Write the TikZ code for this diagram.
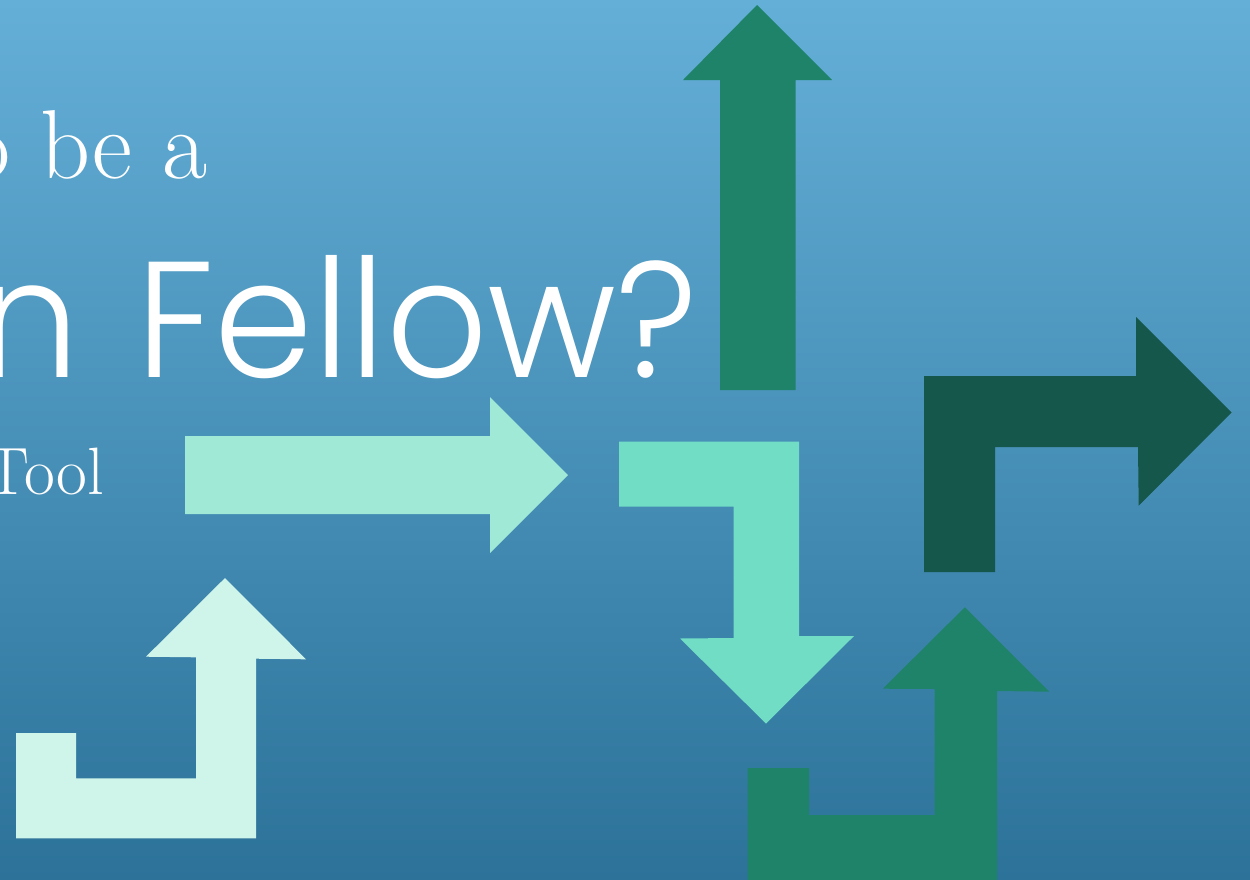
\documentclass[tikz,border=0pt]{standalone}
\usepackage{fontspec}
\IfFontExistsTF{Poppins Light}
  {\newfontfamily\gothic[FakeStretch=0.96]{Poppins Light}}
  {\newfontfamily\gothic[FakeStretch=0.945]{Poppins}}
\definecolor{bgtop}{HTML}{64AFD8}
\definecolor{bgmid}{HTML}{3F97C8}
\definecolor{bgbot}{HTML}{2C7299}
\definecolor{greenA}{HTML}{1F836A}
\definecolor{greenD}{HTML}{15574A}
\definecolor{mintL}{HTML}{A0E9D6}
\definecolor{mintM}{HTML}{70DDC4}
\definecolor{mintP}{HTML}{CFF4EA}
\tikzset{
  shapefill/.style={fill=#1, draw=none},
  txt/.style={text=white, inner sep=0pt, outer sep=0pt}
}
\begin{document}
\begin{tikzpicture}[x=1pt,y=-1pt]
\useasboundingbox (0,0) rectangle (1250,879);
\clip (0,0) rectangle (1250,879);
\shade[top color=bgtop, middle color=bgmid, bottom color=bgbot] (0,0) rectangle (1250,879);

% text
\node[txt, anchor=base east] (l1) at (207,178) {\fontsize{98}{98}\selectfont o be a};
\node[txt, anchor=base east] (l2) at (698,377) {\gothic\fontsize{165}{165}\selectfont n\hspace{14pt} Fellow?};
\node[txt, anchor=base east] (l3) at (104,494) {\fontsize{67}{67}\selectfont Tool};

% top up arrow
\fill[shapefill=greenA] (720,390) -- (720,80) -- (683,80) -- (757,5) -- (832,80) -- (795.5,80) -- (795.5,390) -- cycle;
% dark right-turn arrow
\fill[shapefill=greenD] (924,572) -- (924,376) -- (1136,376) -- (1136,317) -- (1231.5,412.5) -- (1138.7,505.7) -- (1138,447) -- (995,447) -- (995,572) -- cycle;
% light right arrow
\fill[shapefill=mintL] (185,436) -- (490,436) -- (490,397) -- (568,475) -- (490,553) -- (490,514) -- (185,514) -- cycle;
% teal down-turn arrow
\fill[shapefill=mintM] (619,441.5) -- (799,441.5) -- (799,636) -- (854,636) -- (766,723.5) -- (680,638.5) -- (733.5,638) -- (733.5,506.5) -- (619,506.5) -- cycle;
% pale bottom-left arrow
\fill[shapefill=mintP] (16,838.3) -- (16,733) -- (76,733) -- (76,778.3) -- (196,778.3) -- (196,657.3) -- (146,656.7) -- (225,578) -- (306,659.3) -- (256,658.7) -- (256,838.3) -- cycle;
% bottom-right green arrow
\fill[shapefill=greenA] (747.5,880) -- (747.5,768) -- (809,768) -- (809,815) -- (934.6,815) -- (934.6,689) -- (882.8,688.7) -- (964.8,607.3) -- (1049.4,691.7) -- (997,691) -- (997,880) -- cycle;
\end{tikzpicture}
\end{document}
